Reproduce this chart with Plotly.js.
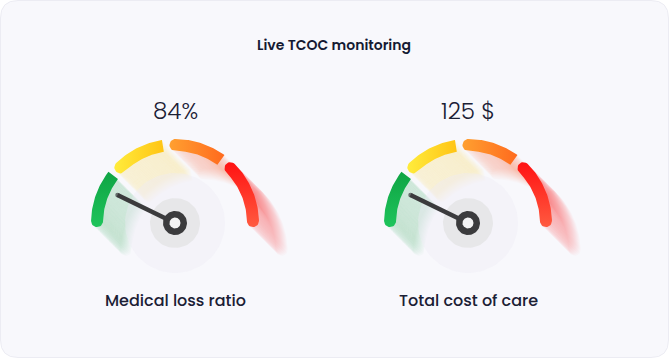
<!DOCTYPE html>
<html><head><meta charset="utf-8">
<script src="https://cdn.plot.ly/plotly-3.0.1.min.js"></script>
<style>html,body{margin:0;padding:0;background:#fff}#chart{width:669px;height:358px}</style>
</head><body><div id="chart"></div>
<script>
// ---- data ----
const chartTitle = 'Live TCOC monitoring';
const gaugeLabels = ['Medical loss ratio', 'Total cost of care'];
const gaugeReadouts = ['84%', '125 $'];
const needlePositions = [15.6, 15.6];          // % of dial sweep
const bandNames = ['low', 'moderate', 'high', 'critical'];
const bandStarts = [0, 23.7, 47.8, 72.0];      // % of dial sweep
const bandEnds = [21.8, 45.2, 69.4, 100];

// ---- style / layout constants ----
const palette = {
  start: ['#1ec45b', '#ffec3c', '#ffa030', '#ff5a40'],
  end:   ['#0fa444', '#ffc414', '#ff6a1e', '#ff1212'],
  glow:  ['30,190,90', '255,215,40', '255,140,80', '255,40,40'],
  gradType: ['vertical', 'horizontal', 'horizontal', 'vertical'],
  roundEnd: [false, false, false, true]
};
const FONT = 'Poppins, Inter, "Open Sans", sans-serif';
const centersX = [175, 468];
const centerY = 223;
const DIAL_FROM = 183, DIAL_TO = -3;
const R_MID = 78, HW = 6, NEEDLE_LEN = 64;
const D2R = Math.PI / 180;

function ang(p) { return DIAL_FROM - p / 100 * (DIAL_FROM - DIAL_TO); }
function circlePts(cx, cy, r) {
  const xs = [], ys = [];
  for (let i = 0; i <= 90; i++) { const a = i / 90 * 2 * Math.PI; xs.push(cx + r * Math.cos(a)); ys.push(cy - r * Math.sin(a)); }
  return [xs, ys];
}
function bandPts(cx, cy, p0, p1, roundEnd, dx, dy) {
  dx = dx || 0; dy = dy || 0;
  const xs = [], ys = [];
  const push = (X, Y) => { xs.push(cx + X + dx); ys.push(cy - Y + dy); };
  const capDeg = HW / R_MID / D2R;
  const s0 = ang(p0) - capDeg;
  const e1 = roundEnd ? ang(p1) + capDeg : ang(p1);
  const N = 40;
  for (let i = 0; i <= N; i++) { const a = (s0 + (e1 - s0) * i / N) * D2R; push((R_MID + HW) * Math.cos(a), (R_MID + HW) * Math.sin(a)); }
  if (roundEnd) {
    const a = e1 * D2R, C = [R_MID * Math.cos(a), R_MID * Math.sin(a)];
    const Rh = [Math.cos(a), Math.sin(a)], T = [Math.sin(a), -Math.cos(a)];
    for (let i = 1; i < 16; i++) { const f = i / 16 * Math.PI; push(C[0] + HW * (Rh[0] * Math.cos(f) + T[0] * Math.sin(f)), C[1] + HW * (Rh[1] * Math.cos(f) + T[1] * Math.sin(f))); }
  }
  for (let i = 0; i <= N; i++) { const a = (e1 + (s0 - e1) * i / N) * D2R; push((R_MID - HW) * Math.cos(a), (R_MID - HW) * Math.sin(a)); }
  {
    const a = s0 * D2R, C = [R_MID * Math.cos(a), R_MID * Math.sin(a)];
    const Rh = [Math.cos(a), Math.sin(a)], T = [-Math.sin(a), Math.cos(a)];
    for (let i = 1; i < 16; i++) { const f = i / 16 * Math.PI; push(C[0] + HW * (-Rh[0] * Math.cos(f) + T[0] * Math.sin(f)), C[1] + HW * (-Rh[1] * Math.cos(f) + T[1] * Math.sin(f))); }
  }
  xs.push(xs[0]); ys.push(ys[0]);
  return [xs, ys];
}
function poly(pts, color, extra) {
  return Object.assign({ type: 'scatter', mode: 'lines', x: pts[0], y: pts[1], fill: 'toself', fillcolor: color, line: { width: 0, color: color }, hoverinfo: 'skip' }, extra || {});
}

const traces = [];
const annotations = [];
gaugeLabels.forEach((label, g) => {
  const cx = centersX[g], cy = centerY;
  // glows (long soft shadow toward lower right)
  bandNames.forEach((b, i) => {
    for (let k = 1; k <= 28; k++) {
      const d = k * 1.45 / Math.SQRT2;
      traces.push(poly(bandPts(cx, cy, bandStarts[i], bandEnds[i], palette.roundEnd[i], d, d), 'rgba(' + palette.glow[i] + ',0.024)'));
    }
  });
  // faint dial disc
  traces.push(poly(circlePts(cx, cy, 50), 'rgba(238,236,245,0.4)'));
  // bands
  bandNames.forEach((b, i) => {
    const pts = bandPts(cx, cy, bandStarts[i], bandEnds[i], palette.roundEnd[i]);
    const vertical = palette.gradType[i] === 'vertical';
    const vals = vertical ? pts[1] : pts[0];
    traces.push(poly(pts, palette.start[i], {
      fillgradient: { type: palette.gradType[i], start: Math.min.apply(null, vals), stop: Math.max.apply(null, vals),
        colorscale: vertical ? [[0, palette.end[i]], [1, palette.start[i]]] : [[0, palette.start[i]], [1, palette.end[i]]] }
    }));
  });
  // hub disc
  traces.push(poly(circlePts(cx, cy, 25), '#e7e7e9'));
  // needle
  const na = ang(needlePositions[g]) * D2R;
  traces.push({ type: 'scatter', mode: 'lines+markers', x: [cx, cx + NEEDLE_LEN * Math.cos(na)], y: [cy, cy - NEEDLE_LEN * Math.sin(na)],
    line: { color: '#3b3b3d', width: 4.5 }, marker: { size: [0, 4.5], color: '#3b3b3d', line: { width: 0 } }, hoverinfo: 'skip' });
  traces.push(poly(circlePts(cx, cy, 12), '#3b3b3d'));
  traces.push(poly(circlePts(cx, cy, 5.5), '#f3f3f4'));
  annotations.push({ x: cx, y: 111, xref: 'x', yref: 'y', text: gaugeReadouts[g], showarrow: false, xanchor: 'center', yanchor: 'middle',
    font: { family: FONT, size: 23, weight: 300, color: '#1b2035' } });
  annotations.push({ x: cx, y: 300, xref: 'x', yref: 'y', text: label, showarrow: false, xanchor: 'center', yanchor: 'middle',
    font: { family: FONT, size: 16, weight: 500, color: '#1b2035' } });
});
annotations.push({ x: 334, y: 45, xref: 'x', yref: 'y', text: chartTitle, showarrow: false, xanchor: 'center', yanchor: 'middle',
  font: { family: FONT, size: 14, weight: 600, color: '#141a33' } });

const layout = {
  width: 669, height: 358, margin: { l: 0, r: 0, t: 0, b: 0 },
  paper_bgcolor: '#ffffff', plot_bgcolor: 'rgba(0,0,0,0)', showlegend: false,
  xaxis: { range: [0, 669], visible: false, fixedrange: true },
  yaxis: { range: [358, 0], visible: false, fixedrange: true },
  shapes: [{ type: 'path', layer: 'below', xref: 'x', yref: 'y',
    path: 'M 18,0.5 H 651 Q 668.5,0.5 668.5,18 V 340 Q 668.5,357.5 651,357.5 H 18 Q 0.5,357.5 0.5,340 V 18 Q 0.5,0.5 18,0.5 Z',
    fillcolor: '#f8f8fc', line: { color: '#ececf3', width: 1 } }],
  annotations: annotations
};
Plotly.newPlot('chart', traces, layout, { staticPlot: true, displayModeBar: false });
</script></body></html>
